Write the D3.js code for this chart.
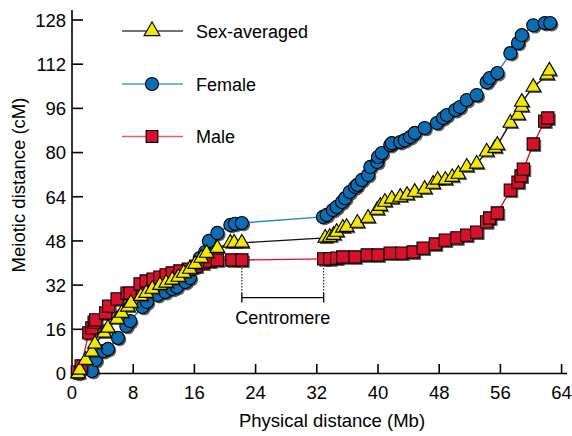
<!DOCTYPE html>
<html>
<head>
<meta charset="utf-8">
<script src="https://cdn.jsdelivr.net/npm/d3@7"></script>
<style>
  body { margin: 0; background: #fff; }
  svg { font-family: "Liberation Sans", Arial, sans-serif; }
</style>
</head>
<body>
<div id="chart"></div>
<script>
// physical position (Mb) vs meiotic distance (cM)
const female = [
  [0.8,0.2],[2.6,0.9],[3.1,4.9],[4.1,8.1],[4.7,8.9],[6.0,12.9],[7.1,17.2],[7.6,19.0],
  [9.2,24.1],[9.8,25.9],[11.2,28.4],[12.2,29.5],[13.1,30.6],[13.7,31.3],[14.8,33.1],[15.4,34.6],
  [16.1,38.6],[16.7,41.8],[17.4,44.0],[17.9,48.0],[19.0,50.9],[20.7,53.8],[21.3,54.2],[22.2,54.5],
  [32.8,56.7],[33.3,57.4],[34.1,59.2],[34.6,60.3],[35.3,62.1],[35.7,63.5],[36.3,65.7],[37.0,67.5],
  [37.3,68.3],[37.9,70.1],[38.7,71.9],[39.0,74.8],[39.9,76.6],[40.0,78.4],[40.5,79.8],[41.6,82.7],
  [41.8,83.4],[42.9,83.8],[43.5,84.5],[44.2,85.6],[44.8,87.1],[46.1,88.9],[47.7,90.7],[48.5,92.5],
  [49.0,93.6],[50.1,95.4],[50.7,96.5],[51.6,99.0],[52.9,100.8],[54.2,105.5],[54.6,107.0],[55.6,108.8],
  [57.3,116.0],[58.3,119.7],[58.8,122.5],[60.3,126.1],[61.8,126.9],[62.5,126.9]
];
const male = [
  [0.7,0.5],[1.2,2.7],[2.2,14.7],[2.6,16.5],[2.9,18.6],[3.1,19.4],[4.4,21.9],[4.8,24.4],
  [5.9,27.0],[7.2,29.1],[7.6,29.1],[8.9,32.4],[9.7,33.5],[10.6,34.2],[11.5,34.9],[12.3,35.7],
  [13.1,36.4],[14.1,37.1],[15.2,37.8],[16.2,38.9],[17.1,40.0],[18.0,40.7],[19.0,41.1],[20.9,41.1],
  [22.2,41.1],
  [32.9,41.5],[33.7,41.5],[34.6,41.8],[35.4,42.2],[37.0,42.2],[38.6,42.9],[40.0,42.9],[41.6,43.6],
  [43.1,43.6],[44.6,44.0],[45.9,45.4],[47.5,46.9],[48.8,48.3],[50.3,49.1],[51.6,50.1],[52.9,51.2],
  [54.2,54.9],[54.6,56.3],[55.6,58.1],[57.3,66.4],[58.3,69.3],[58.7,71.5],[59.0,74.0],[60.3,83.1],
  [61.8,91.4],[62.2,92.5]
];
const sexAveraged = [
  [0.8,0],[1.0,1.3],[1.8,4.9],[2.6,7.8],[3.0,10.7],[4.2,14.7],[4.7,16.5],[5.9,19.7],
  [6.5,21.9],[7.3,24.1],[7.7,25.5],[9.0,28.0],[9.7,29.1],[10.5,30.6],[11.5,32.0],[12.3,32.8],
  [13.1,33.9],[13.9,34.9],[14.6,36.4],[15.4,37.8],[16.1,39.6],[16.9,41.8],[17.6,43.6],[19.0,45.4],
  [20.7,47.3],[21.2,47.3],[22.2,47.3],
  [33.1,49.1],[33.7,49.4],[34.2,50.1],[34.6,51.2],[35.4,52.7],[35.9,53.0],[37.3,54.5],[38.7,56.3],
  [39.9,59.2],[40.3,60.6],[40.9,62.1],[41.8,63.2],[42.9,63.9],[43.8,64.6],[44.8,65.7],[46.1,66.8],
  [47.2,68.6],[47.8,70.1],[48.8,70.1],[49.7,71.1],[50.5,72.2],[51.6,74.8],[52.9,75.9],[54.2,80.3],
  [55.3,81.6],[55.6,82.7],[57.3,90.7],[58.3,93.6],[58.8,96.5],[58.8,98.3],[60.3,103.7],[62.1,108.1],
  [62.4,109.6]
];
const xTicks = [0, 8, 16, 24, 32, 40, 48, 56, 64];
const yTicks = [0, 16, 32, 48, 64, 80, 96, 112, 128];
const centromere = [22.2, 32.9];

const W = 572, H = 436;
const x = d3.scaleLinear().domain([0, 64]).range([72, 561.6]);
const y = d3.scaleLinear().domain([0, 128]).range([373.5, 20]);

const svg = d3.select('#chart').append('svg').attr('width', W).attr('height', H);

// axes
const axes = svg.append('g').attr('stroke', '#000').attr('stroke-width', 1.6);
axes.append('line').attr('x1', 72).attr('x2', 72).attr('y1', 10).attr('y2', 373.5);
axes.append('line').attr('x1', 72).attr('x2', 567).attr('y1', 373.5).attr('y2', 373.5);

svg.append('g').selectAll('line').data(yTicks).join('line')
  .attr('x1', 72).attr('x2', 83).attr('y1', d => y(d)).attr('y2', d => y(d))
  .attr('stroke', '#000').attr('stroke-width', 1.6);
svg.append('g').selectAll('line').data(xTicks.slice(1)).join('line')
  .attr('x1', d => x(d)).attr('x2', d => x(d)).attr('y1', 373.5).attr('y2', 364)
  .attr('stroke', '#000').attr('stroke-width', 1.6);

svg.append('g').selectAll('text').data(yTicks).join('text')
  .attr('x', 66).attr('y', d => y(d) + 6.8)
  .attr('text-anchor', 'end').attr('font-size', 18.5).text(d => d);
svg.append('g').selectAll('text').data(xTicks).join('text')
  .attr('x', d => x(d)).attr('y', 398.5)
  .attr('text-anchor', 'middle').attr('font-size', 18.5).text(d => d);

svg.append('text').attr('x', 332).attr('y', 427).attr('text-anchor', 'middle')
  .attr('font-size', 18.5).text('Physical distance (Mb)');
svg.append('text').attr('transform', 'translate(25,185) rotate(-90)')
  .attr('text-anchor', 'middle').attr('font-size', 18.5).text('Meiotic distance (cM)');

// centromere bracket
const cg = svg.append('g').attr('stroke', '#000');
centromere.forEach(c => {
  cg.append('line').attr('x1', x(c)).attr('x2', x(c)).attr('y1', 268).attr('y2', 293)
    .attr('stroke-width', 1).attr('stroke-dasharray', '1.5,1.5');
  cg.append('line').attr('x1', x(c)).attr('x2', x(c)).attr('y1', 293).attr('y2', 302.5)
    .attr('stroke-width', 1.3);
});
cg.append('line').attr('x1', x(centromere[0])).attr('x2', x(centromere[1]))
  .attr('y1', 297.7).attr('y2', 297.7).attr('stroke-width', 1.3);
svg.append('text').attr('x', (x(centromere[0]) + x(centromere[1])) / 2).attr('y', 324)
  .attr('text-anchor', 'middle').attr('font-size', 18).text('Centromere');

const series = [
  { name: 'Female', data: female, line: '#1f86cf', fill: '#0b6db3', sym: d3.symbolCircle, size: 135 },
  { name: 'Male', data: male, line: '#e0102e', fill: '#d8102b', sym: d3.symbolSquare, size: 150 },
  { name: 'Sex-averaged', data: sexAveraged, line: '#111', fill: '#f3e800', sym: d3.symbolTriangle, size: 92 }
];

const line = d3.line().x(d => x(d[0])).y(d => y(d[1]));

series.forEach(s => {
  const g = svg.append('g');
  g.append('path').attr('d', line(s.data)).attr('fill', 'none')
    .attr('stroke', s.line).attr('stroke-width', 1.4);
  const sym = d3.symbol().type(s.sym).size(s.size);
  g.append('g').selectAll('path').data(s.data).join('path')
    .attr('d', sym)
    .attr('transform', d => `translate(${x(d[0]) + 1.8},${y(d[1]) + 1.8})`)
    .attr('fill', '#2a2a2a').attr('opacity', 0.75);
  g.append('g').selectAll('path').data(s.data).join('path')
    .attr('d', sym)
    .attr('transform', d => `translate(${x(d[0])},${y(d[1])})`)
    .attr('fill', s.fill).attr('stroke', '#000').attr('stroke-width', 1.1);
});

// legend
const legend = [
  { name: 'Sex-averaged', line: '#444', fill: '#f3e800', sym: d3.symbolTriangle, size: 110, y: 31 },
  { name: 'Female', line: '#4a9bd6', fill: '#0b6db3', sym: d3.symbolCircle, size: 135, y: 84 },
  { name: 'Male', line: '#e65a70', fill: '#d8102b', sym: d3.symbolSquare, size: 140, y: 136.5 }
];
const lg = svg.append('g');
legend.forEach(l => {
  lg.append('line').attr('x1', 122).attr('x2', 183).attr('y1', l.y).attr('y2', l.y)
    .attr('stroke', l.line).attr('stroke-width', 1.4);
  lg.append('path').attr('d', d3.symbol().type(l.sym).size(l.size))
    .attr('transform', `translate(152,${l.y})`)
    .attr('fill', l.fill).attr('stroke', '#000').attr('stroke-width', 1.1);
  lg.append('text').attr('x', 196).attr('y', l.y + 6.5).attr('font-size', 18).text(l.name);
});
</script>
</body>
</html>
